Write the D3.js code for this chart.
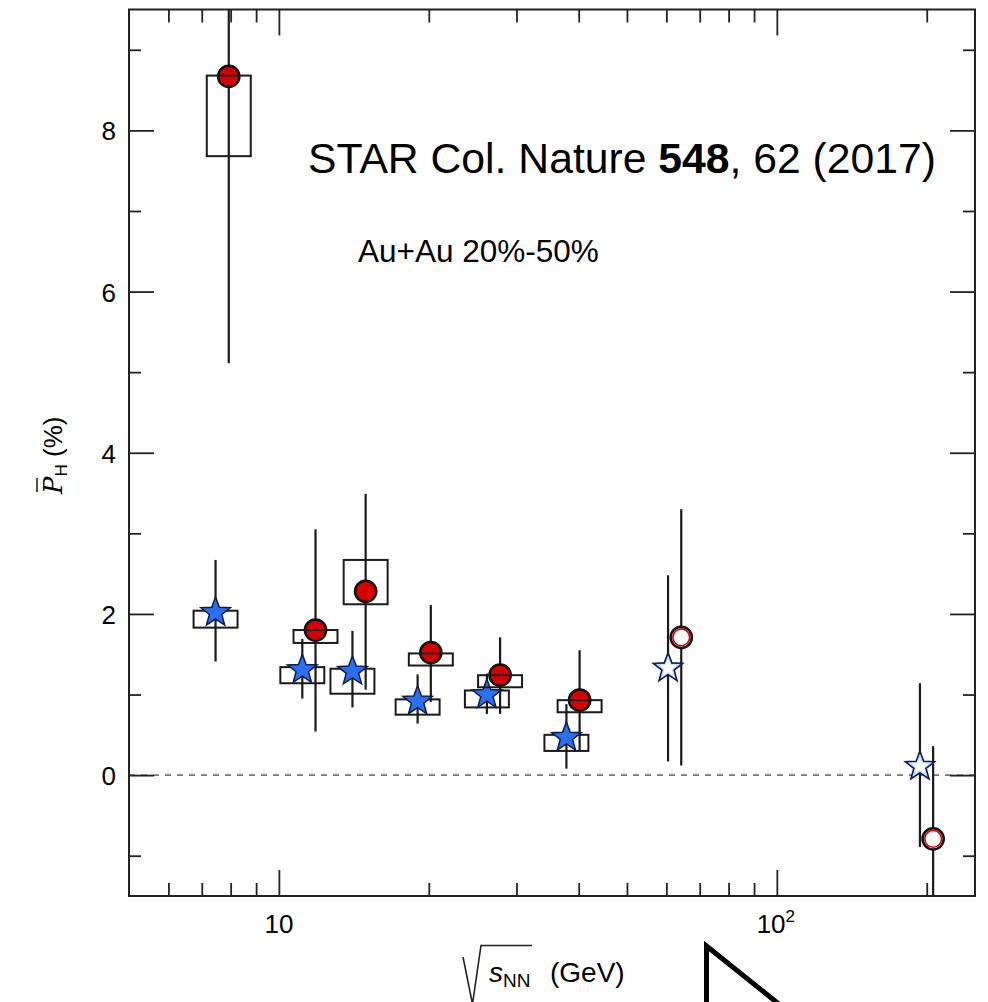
<!DOCTYPE html>
<html>
<head>
<meta charset="utf-8">
<script src="https://cdn.jsdelivr.net/npm/d3@7"></script>
<style>
  html, body { margin: 0; padding: 0; background: #fff; }
  svg { display: block; }
  text { font-family: "Liberation Sans", Arial, Helvetica, sans-serif; fill: #000; }
</style>
</head>
<body>
<svg id="chart" width="988" height="1002"></svg>
<script>
// ---------- data ----------
const energies = [7.7, 11.5, 14.5, 19.6, 27, 39, 62.4, 200];
const isPrevious = [false, false, false, false, false, false, true, true];

// Lambda (stars)
const lambdaP      = [2.03, 1.32, 1.30, 0.93, 1.01, 0.48, 1.34, 0.12];
const lambdaStatLo = [1.41, 0.95, 0.84, 0.64, 0.76, 0.08, 0.17, -0.89];
const lambdaStatHi = [2.67, 1.69, 1.79, 1.25, 1.26, 0.88, 2.48, 1.14];
const lambdaSysLo  = [1.83, 1.14, 1.01, 0.75, 0.84, 0.30, null, null];
const lambdaSysHi  = [2.04, 1.34, 1.32, 0.94, 1.05, 0.50, null, null];

// anti-Lambda (circles)
const antiP      = [8.67, 1.80, 2.28, 1.52, 1.24, 0.93, 1.71, -0.79];
const antiStatLo = [5.11, 0.54, 1.06, 0.91, 0.76, 0.31, 0.12, -1.94];
const antiStatHi = [12.23, 3.05, 3.49, 2.11, 1.71, 1.55, 3.30, 0.36];
const antiSysLo  = [7.68, 1.64, 2.12, 1.36, 1.09, 0.78, null, null];
const antiSysHi  = [8.68, 1.80, 2.67, 1.51, 1.24, 0.93, null, null];

// axes
const xDomain = [5, 250];
const yDomain = [-1.5, 9.5];
const xMajorTicks = [10, 100];
const xMajorLabels = ["10", "10|2"];
const xMinorTicks = [6, 7, 8, 9, 20, 30, 40, 50, 60, 70, 80, 90, 200];
const yMajorTicks = [0, 2, 4, 6, 8];
const yMinorTicks = [-1, 1, 3, 5, 7, 9];

const titleText = ["STAR Col. Nature ", "548", ", 62 (2017)"];
const subText = "Au+Au 20%-50%";

// ---------- layout ----------
const L = 129, R = 975, T = 9.5, B = 896;
const starShift = 0.969, circShift = 1.03, boxHalf = 1.107;
const blue = "#2b6ef0", red = "#d80000";

const svg = d3.select("#chart");
const x = d3.scaleLog().domain(xDomain).range([L, R]);
const y = d3.scaleLinear().domain(yDomain).range([B, T]);

svg.append("defs").append("clipPath").attr("id", "plotclip")
  .append("rect").attr("x", L).attr("y", T).attr("width", R - L).attr("height", B - T);

// zero line
svg.append("line")
  .attr("x1", L).attr("x2", R).attr("y1", y(0)).attr("y2", y(0))
  .attr("stroke", "#777").attr("stroke-width", 1.6).attr("stroke-dasharray", "6,6");

// axes with d3 axis generators (ticks inward)
function tickAxis(gen, tf, len, vals) {
  const g = svg.append("g").attr("transform", tf)
    .call(gen.tickValues(vals).tickSize(len).tickFormat(""));
  g.select(".domain").remove();
  g.selectAll(".tick line").attr("stroke", "#222").attr("stroke-width", 1.8);
  return g;
}
tickAxis(d3.axisBottom(x), `translate(0,${B})`, -26, xMajorTicks);
tickAxis(d3.axisBottom(x), `translate(0,${B})`, -13, xMinorTicks);
tickAxis(d3.axisTop(x), `translate(0,${T})`, -26, xMajorTicks);
tickAxis(d3.axisTop(x), `translate(0,${T})`, -13, xMinorTicks);
tickAxis(d3.axisLeft(y), `translate(${L},0)`, -25, yMajorTicks);
tickAxis(d3.axisLeft(y), `translate(${L},0)`, -12, yMinorTicks);
tickAxis(d3.axisRight(y), `translate(${R},0)`, -25, yMajorTicks);
tickAxis(d3.axisRight(y), `translate(${R},0)`, -12, yMinorTicks);

// frame
svg.append("rect").attr("x", L).attr("y", T).attr("width", R - L).attr("height", B - T)
  .attr("fill", "none").attr("stroke", "#222").attr("stroke-width", 2);

// tick labels
yMajorTicks.forEach(v => {
  svg.append("text").attr("x", 116).attr("y", y(v) + 10)
    .attr("text-anchor", "end").attr("font-size", 26).text(v);
});
xMajorTicks.forEach((v, i) => {
  const parts = xMajorLabels[i].split("|");
  const t = svg.append("text").attr("x", x(v) + (parts[1] ? -1 : 0)).attr("y", 933)
    .attr("text-anchor", "middle").attr("font-size", 26);
  t.append("tspan").text(parts[0]);
  if (parts[1]) t.append("tspan").attr("font-size", 17).attr("dy", -11).text(parts[1]);
});

// ---------- data marks ----------
const plot = svg.append("g").attr("clip-path", "url(#plotclip)");

const stars = energies.map((e, i) => ({ e: e * starShift, v: lambdaP[i], lo: lambdaStatLo[i], hi: lambdaStatHi[i], slo: lambdaSysLo[i], shi: lambdaSysHi[i], open: isPrevious[i] }));
const circs = energies.map((e, i) => ({ e: e * circShift, v: antiP[i], lo: antiStatLo[i], hi: antiStatHi[i], slo: antiSysLo[i], shi: antiSysHi[i], open: isPrevious[i] }));

function errBars(data) {
  plot.append("g").selectAll("line").data(data).join("line")
    .attr("x1", d => x(d.e)).attr("x2", d => x(d.e))
    .attr("y1", d => y(d.hi)).attr("y2", d => y(d.lo))
    .attr("stroke", "#1a1a1a").attr("stroke-width", 2.2);
}
function sysBoxes(data) {
  plot.append("g").selectAll("rect").data(data.filter(d => d.slo !== null)).join("rect")
    .attr("x", d => x(d.e / boxHalf)).attr("width", d => x(d.e * boxHalf) - x(d.e / boxHalf))
    .attr("y", d => y(d.shi)).attr("height", d => y(d.slo) - y(d.shi))
    .attr("fill", "none").attr("stroke", "#1a1a1a").attr("stroke-width", 2);
}
function starPath(ro, ri) {
  const pts = [];
  for (let k = 0; k < 10; k++) {
    const a = -Math.PI / 2 + k * Math.PI / 5;
    const r = k % 2 === 0 ? ro : ri;
    pts.push([r * Math.cos(a), r * Math.sin(a)]);
  }
  return "M" + pts.map(p => p.join(",")).join("L") + "Z";
}

errBars(stars);
errBars(circs);
sysBoxes(stars);

// stars
const sg = plot.append("g").selectAll("g").data(stars).join("g")
  .attr("transform", d => `translate(${x(d.e)},${y(d.v) + 1})`);
sg.append("path").attr("d", starPath(15.5, 6.5))
  .attr("fill", blue).attr("stroke", "#0c1c4a").attr("stroke-width", 1.5);
sg.filter(d => d.open).append("path").attr("d", starPath(11, 4.6))
  .attr("fill", "#fff").attr("stroke", "#cfe0ff").attr("stroke-width", 1.2);

// circles
const cg = plot.append("g").selectAll("g").data(circs).join("g")
  .attr("transform", d => `translate(${x(d.e)},${y(d.v)})`);
cg.append("circle").attr("r", 10.6)
  .attr("fill", d => d.open ? "#fff" : red).attr("stroke", "#111").attr("stroke-width", 2.5);
cg.filter(d => d.open).append("circle").attr("r", 8.4)
  .attr("fill", "#fff").attr("stroke", red).attr("stroke-width", 1.6);

sysBoxes(circs);

// ---------- annotations ----------
const t1 = svg.append("text").attr("x", 308).attr("y", 173).attr("font-size", 42.7);
t1.append("tspan").text(titleText[0]);
t1.append("tspan").attr("font-weight", "bold").text(titleText[1]);
t1.append("tspan").text(titleText[2]);

svg.append("text").attr("x", 358).attr("y", 262).attr("font-size", 31.5).text(subText);

// y-axis title (rotated)
const yt = svg.append("g").attr("transform", "translate(62,452) rotate(-90)");
const ytt = yt.append("text").attr("x", -42).attr("y", 0).attr("font-size", 26);
ytt.append("tspan").attr("font-family", "DejaVu Serif").attr("font-style", "italic").text("P");
ytt.append("tspan").attr("font-size", 17).attr("dy", 5).text("H");
ytt.append("tspan").attr("dy", -5).text(" (%)");
yt.append("line").attr("x1", -40).attr("x2", -26).attr("y1", -25).attr("y2", -25)
  .attr("stroke", "#222").attr("stroke-width", 1.6);

// x-axis title
svg.append("path").attr("d", "M463,957 L472.5,1004 L481,945.5 L532,945.5")
  .attr("fill", "none").attr("stroke", "#222").attr("stroke-width", 1.6);
const xt = svg.append("text").attr("x", 489).attr("y", 982).attr("font-size", 28);
xt.append("tspan").attr("font-style", "italic").text("s");
xt.append("tspan").attr("font-size", 19).attr("dy", 5).text("NN");
svg.append("text").attr("x", 550).attr("y", 982).attr("font-size", 28).text("(GeV)");

// clipped shape at the bottom edge
svg.append("path").attr("d", "M706.5,1010 L706.5,946 L851,1062")
  .attr("fill", "none").attr("stroke", "#000").attr("stroke-width", 5).attr("stroke-linejoin", "miter");
</script>
</body>
</html>
